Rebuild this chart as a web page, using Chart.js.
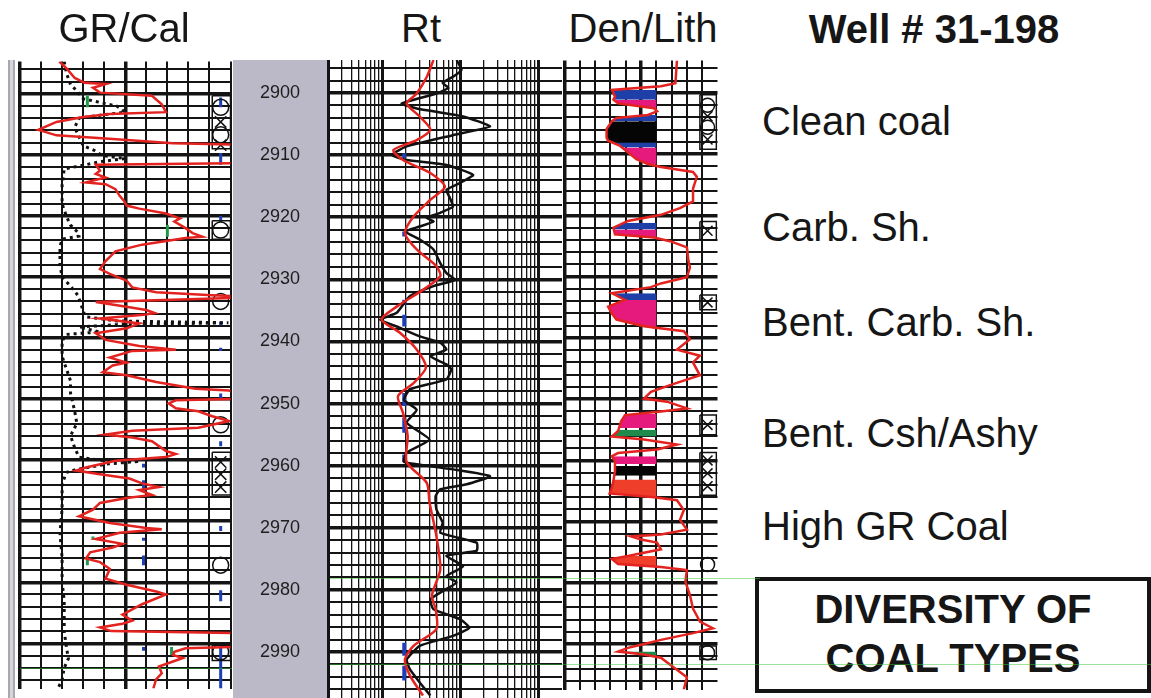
<!DOCTYPE html>
<html lang="en">
<head>
<meta charset="utf-8">
<title>Well # 31-198 - Diversity of coal types</title>
<script src="https://cdn.jsdelivr.net/npm/chart.js@4.4.1/dist/chart.umd.min.js"></script>
<style>
  html, body { margin: 0; padding: 0; background: #fff; }
  body { position: relative; width: 1151px; height: 698px; overflow: hidden;
         font-family: "Liberation Sans", Arial, Helvetica, sans-serif; color: #161616; }
  canvas { position: absolute; top: 52px; }
  #grChart { left: 0; z-index: 2; }
  #rtChart { left: 232px; z-index: 1; }
  #denChart { left: 556px; z-index: 1; }
  .txt { position: absolute; font-size: 40px; line-height: 40px; white-space: nowrap; z-index: 3; }
  .ctr { text-align: center; }
  .bold { font-weight: bold; }
  #edge { position: absolute; left: 8px; top: 60px; width: 3px; height: 638px; background: #d6d6da;
          border-left: 2px solid #a8a8b0; border-right: 2px solid #a8a8b0; }
  #box { position: absolute; left: 755px; top: 577px; width: 396px; height: 116px;
         box-sizing: border-box; border: 4px solid #151515; }
  /* faint green scan marks crossing the sheet */
  .scan { position: absolute; height: 1px; background: #3cc43c; opacity: 0.5; z-index: 4; }
</style>
</head>
<body>
<div class="txt ctr" style="left:24px;top:8px;width:200px">GR/Cal</div>
<div class="txt ctr" style="left:371px;top:8px;width:100px">Rt</div>
<div class="txt ctr" style="left:543px;top:8px;width:200px">Den/Lith</div>
<div class="txt ctr bold" style="left:734px;top:9px;width:400px">Well # 31-198</div>

<div class="txt" style="left:762px;top:101px">Clean coal</div>
<div class="txt" style="left:762px;top:207px">Carb. Sh.</div>
<div class="txt" style="left:762px;top:302px">Bent. Carb. Sh.</div>
<div class="txt" style="left:762px;top:413px">Bent. Csh/Ashy</div>
<div class="txt" style="left:762px;top:506px">High GR Coal</div>

<div id="box"></div>
<div class="txt ctr bold" style="left:755px;top:589px;width:396px">DIVERSITY OF</div>
<div class="txt ctr bold" style="left:755px;top:638px;width:396px">COAL TYPES</div>

<div class="scan" style="left:330px;top:578px;width:430px"></div>
<div class="scan" style="left:330px;top:664px;width:821px"></div>
<div class="scan" style="left:20px;top:668px;width:212px"></div>

<div id="edge"></div>
<canvas id="rtChart" width="336" height="646"></canvas>
<canvas id="denChart" width="170" height="646"></canvas>
<canvas id="grChart" width="240" height="646"></canvas>

<script>
// ---------- depth window ----------
const depthTop = 2894.7;
const depthBase = 2997.4;
const depthLabels = [2900, 2910, 2920, 2930, 2940, 2950, 2960, 2970, 2980, 2990];

// ---------- GR (API) ----------
const grDepth = [2894.7,2895.8,2897.4,2898.2,2898.4,2899.0,2899.8,2900.3,2901.7,2903.0,
  2903.3,2903.8,2904.6,2905.9,2906.8,2907.3,2908.1,2908.4,2911.3,2911.6,
  2912.6,2913.1,2913.7,2914.5,2914.8,2915.6,2916.7,2917.5,2918.3,2918.8,
  2919.6,2920.4,2920.9,2922.0,2922.8,2923.4,2923.6,2924.7,2925.8,2927.4,
  2928.7,2929.5,2930.6,2931.7,2932.5,2933.0,2933.3,2934.1,2934.6,2935.4,
  2935.9,2936.2,2936.8,2937.6,2938.4,2939.2,2940.3,2941.3,2941.9,2942.1,
  2943.2,2944.0,2944.5,2945.6,2946.1,2947.2,2948.3,2948.6,2949.9,2950.2,
  2950.7,2951.5,2952.0,2952.8,2953.6,2954.7,2955.2,2955.8,2956.3,2956.9,
  2957.7,2958.5,2959.0,2959.5,2960.1,2961.2,2961.7,2962.3,2963.0,2963.8,
  2964.4,2964.9,2965.7,2966.2,2967.0,2968.1,2969.2,2970.3,2971.1,2971.3,
  2971.9,2972.9,2973.7,2974.3,2975.1,2976.1,2976.7,2977.8,2979.4,2980.4,
  2981.5,2982.0,2983.6,2985.3,2986.3,2986.8,2987.4,2988.0,2988.4,2990.5,
  2990.8,2991.4,2991.9,2992.4,2993.8,2994.9,2995.9,2997.4];
const grApi = [28,33,39,46,61,52,57,94,101,104,
  64,45,26,13,26,61,109,170,170,54,
  57,54,61,47,61,68,71,74,76,85,
  104,114,110,118,123,130,118,87,68,61,
  57,64,76,80,97,137,170,54,68,90,
  96,88,57,85,76,54,61,85,111,80,
  64,76,66,59,76,97,125,149,170,111,
  106,111,127,137,149,127,80,61,80,94,
  99,104,111,104,68,47,40,57,78,87,
  99,85,94,76,57,52,42,64,90,101,
  71,54,73,66,50,47,57,64,61,76,
  97,104,87,73,80,73,57,65,170,170,
  118,110,109,116,99,101,97,95];

// ---------- Caliper (in) ----------
const calDepth = [2894.7,2896.5,2898.5,2899.5,2900.8,2901.4,2902.0,2903.0,2903.5,2904.0,
  2905.5,2907.0,2908.5,2909.2,2910.1,2910.6,2911.1,2911.7,2912.3,2915.0,
  2918.0,2920.0,2921.5,2922.7,2923.3,2923.8,2925.0,2928.0,2930.0,2931.5,
  2933.0,2934.5,2935.5,2936.5,2937.2,2937.5,2937.8,2938.2,2939.0,2939.4,
  2940.5,2943.0,2945.0,2947.0,2949.0,2950.5,2952.0,2954.0,2956.0,2958.0,
  2959.5,2960.0,2960.2,2960.6,2961.5,2962.0,2964.0,2968.0,2972.0,2976.0,
  2980.0,2983.0,2986.0,2988.0,2990.5,2992.5,2994.0,2996.0,2997.4];
const calInch = [8.1,8.2,8.4,8.7,9.0,9.8,10.6,11.0,9.8,8.8,
  8.6,8.8,9.0,9.5,9.9,11.0,9.8,9.0,8.1,8.0,
  8.0,8.2,8.4,8.75,8.8,8.0,7.9,7.9,8.0,8.4,
  8.75,8.9,9.0,9.1,10.6,15.9,10.6,8.8,9.8,8.2,
  8.0,8.0,8.2,8.4,8.4,8.5,8.6,8.7,8.4,8.6,
  8.8,9.8,11.7,10.2,8.7,8.2,8.0,8.0,7.9,8.0,
  8.0,8.1,8.1,8.1,8.2,8.3,8.1,8.0,7.8];

// ---------- Rt deep (black) and shallow (red), ohm-m ----------
const rtDeepDepth = [2894.7,2896.3,2897.4,2898.4,2899.2,2900.1,2901.7,2902.5,2903.8,2905.4,
  2906.8,2908.6,2910.0,2910.8,2911.6,2913.2,2914.5,2915.6,2916.9,2918.3,
  2919.3,2920.1,2920.7,2921.5,2922.3,2923.6,2925.2,2927.4,2929.0,2930.1,
  2931.1,2932.7,2935.4,2936.5,2937.6,2939.2,2940.2,2941.3,2942.4,2943.7,
  2944.5,2946.1,2947.7,2949.4,2951.0,2953.1,2955.8,2957.9,2959.4,2960.6,
  2961.7,2963.0,2963.8,2964.9,2967.0,2969.2,2970.8,2972.4,2973.7,2974.5,
  2976.2,2977.8,2978.8,2980.2,2981.5,2983.1,2984.7,2986.1,2987.4,2989.0,
  2991.2,2992.8,2994.9,2997.0];
const rtDeep = [8.9,10.3,8.0,5.9,7.0,4.9,1.76,2.74,10.8,23.9,
  8.0,2.04,1.31,2.04,6.6,14.5,9.8,6.6,7.3,8.0,
  5.5,3.7,4.5,3.0,1.94,3.0,4.5,5.5,6.6,8.5,
  4.5,2.25,1.52,0.93,1.52,3.0,5.5,6.6,4.1,6.6,
  7.6,6.6,2.25,1.88,2.74,2.04,4.0,2.04,1.88,8.0,
  23.9,12.0,5.5,4.8,4.9,5.9,5.5,16.1,16.1,6.6,
  10.8,6.6,8.9,5.9,4.1,4.5,9.8,13.0,8.0,3.0,
  2.04,2.25,3.0,4.1];
const rtShallowDepth = [2894.7,2897.4,2900.1,2901.7,2903.8,2905.9,2907.6,2909.2,2910.8,2912.9,
  2915.1,2917.2,2919.9,2922.6,2925.2,2927.9,2929.5,2931.7,2934.4,2936.5,
  2938.6,2941.3,2944.2,2946.7,2948.8,2951.5,2955.2,2959.4,2962.8,2965.9,
  2971.3,2976.7,2980.9,2983.1,2986.3,2989.0,2991.2,2993.8,2997.0];
const rtShallow = [4.5,3.7,2.74,2.04,3.0,4.1,2.74,1.38,1.83,4.1,
  6.3,4.1,2.5,1.94,2.74,4.9,5.5,3.3,1.52,0.97,
  1.67,2.74,3.6,2.5,1.58,1.83,2.1,2.04,3.7,4.0,
  4.9,5.5,4.3,4.8,4.9,2.5,1.94,2.25,3.3];

// ---------- Density (g/cc) ----------
const denDepth = [2894.7,2898.4,2898.9,2899.5,2900.6,2901.1,2901.7,2902.5,2903.0,2903.6,
  2904.1,2904.6,2905.9,2907.3,2907.8,2908.6,2909.7,2910.8,2911.6,2912.1,
  2912.9,2913.7,2915.6,2917.7,2918.8,2919.9,2920.9,2922.0,2923.1,2923.6,
  2924.2,2925.2,2927.4,2928.5,2930.1,2931.1,2931.7,2932.7,2933.8,2934.9,
  2936.0,2937.0,2938.1,2938.9,2940.2,2941.9,2942.9,2944.0,2946.1,2947.7,
  2948.8,2949.9,2950.4,2951.5,2952.0,2952.6,2953.6,2955.2,2956.1,2956.6,
  2957.4,2958.2,2958.8,2959.3,2960.1,2961.7,2963.3,2964.4,2965.4,2966.0,
  2966.5,2968.1,2969.7,2971.3,2972.1,2972.4,2972.9,2973.4,2974.5,2975.6,
  2976.1,2976.9,2977.4,2977.9,2979.8,2982.0,2984.2,2986.3,2987.4,2988.2,
  2989.3,2990.1,2990.6,2991.2,2991.7,2992.2,2993.8,2995.4,2997.4];
const denGcc = [2.47,2.45,2.26,1.62,1.66,1.64,1.70,2.17,2.21,2.09,
  1.68,1.62,1.55,1.55,1.57,1.72,1.83,1.94,2.09,2.26,
  2.68,2.73,2.68,2.68,2.51,2.26,1.83,1.64,1.66,2.17,
  2.38,2.60,2.62,2.64,2.60,2.26,2.13,1.62,1.79,1.57,
  1.62,1.68,2.04,2.56,2.64,2.47,2.77,2.68,2.77,2.38,
  2.13,2.04,2.34,2.60,2.26,1.79,1.74,1.70,1.62,2.04,
  2.47,2.21,1.70,1.62,1.66,1.66,1.64,1.62,1.59,2.17,
  2.47,2.56,2.51,2.60,2.26,1.87,2.00,2.21,2.26,1.83,
  1.62,1.70,2.26,2.60,2.58,2.64,2.68,2.77,2.94,2.68,
  2.26,2.00,1.83,1.70,2.04,2.26,2.43,2.60,2.56];
const denCutoff = 2.2;

// lithology shading between density curve and cutoff
const bandTop  = [2899.5,2901.1,2903.6,2904.6,2908.1,2908.9,2921.2,2922.3,2932.7,2933.8,2952.4,2955.0,2959.3,2960.9,2963.1,2975.6,2991.2];
const bandBase = [2901.1,2903.0,2904.6,2908.1,2908.9,2911.6,2922.3,2923.6,2933.8,2938.6,2954.7,2956.1,2960.6,2962.5,2966.0,2977.4,2992.0];
const bandLith = ['bone','carbSh','bone','coal','bone','carbSh','bone','carbSh','bone','carbSh','carbSh','bent','carbSh','coal','ashy','ashy','bent'];

// lithology symbol columns
const grCircleDepth = [2902.2, 2906.7, 2922.3, 2934.0, 2954.2, 2977.2, 2991.4];
const grCrossDepth = [2904.6, 2908.4, 2960.3, 2962.3, 2964.4];
const grBoxTop = [2900.3, 2920.8, 2958.7, 2990.3];
const grBoxBase = [2909.0, 2923.8, 2965.7, 2992.8];
const denCircleDepth = [2902.0, 2905.6, 2977.0, 2991.4];
const denCrossDepth = [2903.8, 2907.6, 2922.5, 2934.2, 2954.2, 2960.0, 2962.1, 2964.2];
const denBoxTop = [2900.3, 2921.0, 2933.0, 2952.6, 2958.7, 2990.3];
const denBoxBase = [2909.2, 2924.0, 2935.4, 2955.8, 2965.7, 2992.5];

// flag marks (short bars)
const grBlueApi  = [143,143,143,143,143,143,143,143,143,143,88,88,88,88,88];
const grBlueTop  = [2900.6,2909.7,2920.0,2937.3,2941.6,2949.1,2956.9,2970.8,2981.3,2990.1,2960.6,2963.3,2972.7,2975.6,2990.6];
const grBlueBase = [2902.2,2911.6,2921.0,2937.9,2942.1,2949.9,2957.7,2971.6,2983.1,2997.4,2961.2,2965.2,2973.2,2977.2,2991.2];
const grGreenApi  = [48, 105, 52, 48, 108];
const grGreenTop  = [2900.3, 2921.5, 2972.5, 2976.1, 2990.6];
const grGreenBase = [2902.2, 2923.4, 2973.0, 2977.2, 2991.9];
const rtBlueTop  = [2909.7, 2922.3, 2933.3, 2935.7, 2948.3, 2952.3, 2958.2, 2988.5, 2992.2];
const rtBlueBase = [2910.5, 2923.1, 2934.1, 2937.6, 2950.4, 2954.7, 2959.4, 2990.6, 2994.6];

// ---------- styles ----------
const ink = '#141414';
const logRed = '#e3231f';
const lithColor = { coal: '#050505', carbSh: '#e6197c', bone: '#1f3fa8', bent: '#1e8a4c', ashy: '#ef3f2b' };
const grSymbolApi = 143, grBoxLeft = 137, grBoxRight = 150;
const denSymbolGcc = 2.87, denBoxLeft = 2.77, denBoxRight = 2.985;
const rtFlag = 1.9;

Chart.defaults.font.family = '"Liberation Sans", Arial, sans-serif';

// ---------- helpers ----------
function pairs(depths, values) {
  return depths.map((d, i) => ({ x: values[i], y: d }));
}
function bars(values, tops, bases) {
  const pts = [];
  tops.forEach((t, i) => {
    const v = Array.isArray(values) ? values[i] : values;
    pts.push({ x: v, y: t }, { x: v, y: bases[i] }, { x: null, y: bases[i] });
  });
  return pts;
}
function boxes(left, right, tops, bases) {
  const pts = [];
  tops.forEach((t, i) => {
    const b = bases[i];
    pts.push({ x: left, y: t }, { x: right, y: t }, { x: right, y: b }, { x: left, y: b }, { x: left, y: t }, { x: null, y: b });
  });
  return pts;
}
function denAt(d) {
  for (let i = 1; i < denDepth.length; i++) {
    if (d <= denDepth[i]) {
      const t = (d - denDepth[i - 1]) / (denDepth[i] - denDepth[i - 1]);
      return denGcc[i - 1] + t * (denGcc[i] - denGcc[i - 1]);
    }
  }
  return denGcc[denGcc.length - 1];
}
function bandOutline(top, base) {
  const pts = [{ x: Math.min(denAt(top), denCutoff), y: top }];
  denDepth.forEach((d, i) => {
    if (d > top && d < base) pts.push({ x: Math.min(denGcc[i], denCutoff), y: d });
  });
  pts.push({ x: Math.min(denAt(base), denCutoff), y: base });
  return pts;
}
function symbols(value, depths, style, r) {
  return {
    data: depths.map(d => ({ x: value, y: d })), showLine: false,
    pointStyle: style, pointRadius: r, pointBorderColor: '#111', pointBorderWidth: 1.5,
    pointBackgroundColor: 'rgba(0,0,0,0)'
  };
}

// grid every 2 ft, heavy every 10 ft
const depthGrid = [];
for (let d = 2896; d <= 2996; d += 2) depthGrid.push(d);

function depthScale(extra) {
  return Object.assign({
    type: 'linear', min: depthTop, max: depthBase, reverse: true,
    afterBuildTicks: s => { s.ticks = depthGrid.map(v => ({ value: v })); },
    ticks: { display: false },
    grid: { color: ink, lineWidth: c => (c.tick.value % 10 === 0 ? 3.5 : 2), drawTicks: false },
    border: { display: false }
  }, extra || {});
}

function baseOptions(scales, padding) {
  return {
    responsive: false, animation: false, events: [], indexAxis: 'y',
    layout: { padding: padding },
    plugins: { legend: { display: false }, tooltip: { enabled: false } },
    elements: { point: { radius: 0 }, line: { tension: 0 } },
    scales: scales
  };
}

// ---------- Track 1: GR / Caliper ----------
const grGrid = [0, 15, 30, 45, 60, 75, 90, 105, 120, 135, 150];
new Chart(document.getElementById('grChart'), {
  type: 'line',
  data: {
    datasets: [
      { data: pairs(grDepth, grApi), borderColor: logRed, borderWidth: 2.5, xAxisID: 'x' },
      { data: pairs(calDepth, calInch), borderColor: '#111', borderWidth: 3, borderDash: [3, 4], xAxisID: 'xc' },
      Object.assign(symbols(grSymbolApi, grCircleDepth, 'circle', 8), { xAxisID: 'x' }),
      Object.assign(symbols(grSymbolApi, grCrossDepth, 'crossRot', 8), { xAxisID: 'x' }),
      { data: boxes(grBoxLeft, grBoxRight, grBoxTop, grBoxBase), borderColor: '#111', borderWidth: 1.5, xAxisID: 'x' },
      { data: bars(grBlueApi, grBlueTop, grBlueBase), borderColor: '#1d3fb5', borderWidth: 3, xAxisID: 'x' },
      { data: bars(grGreenApi, grGreenTop, grGreenBase), borderColor: '#1f9a4a', borderWidth: 3, xAxisID: 'x' }
    ]
  },
  options: baseOptions({
    x: {
      type: 'linear', min: 0, max: 150,
      afterBuildTicks: s => { s.ticks = grGrid.map(v => ({ value: v })); },
      ticks: { display: false },
      grid: { color: ink, lineWidth: c => (c.tick.value === 0 || c.tick.value === 75 ? 3.5 : 2), drawTicks: false },
      border: { display: false }
    },
    xc: { type: 'linear', min: 6, max: 16, display: false },
    y: depthScale()
  }, { left: 20, right: 8, top: 8, bottom: 0 })
});

// ---------- Depth column + Track 2: Rt ----------
const rtGrid = [];
[0.1, 1, 10, 100].forEach(base => {
  for (let m = 1; m <= 9; m++) {
    const v = +(m * base).toPrecision(3);
    if (v >= 0.2 && v < 200) rtGrid.push(v);
  }
});
const rtDecades = [0.2, 1, 10, 100];

const depthColumn = {
  id: 'depthColumn',
  beforeDraw(chart) {
    const { ctx, chartArea } = chart;
    ctx.save();
    ctx.fillStyle = '#bbb8c8';
    ctx.fillRect(1, chartArea.top, chartArea.left - 1, chartArea.bottom - chartArea.top);
    ctx.restore();
  }
};

new Chart(document.getElementById('rtChart'), {
  type: 'line',
  data: {
    datasets: [
      { data: pairs(rtShallowDepth, rtShallow), borderColor: logRed, borderWidth: 2.5, tension: 0.25 },
      { data: pairs(rtDeepDepth, rtDeep), borderColor: '#111', borderWidth: 2.5, tension: 0.15 },
      { data: bars(rtFlag, rtBlueTop, rtBlueBase), borderColor: '#1d3fb5', borderWidth: 4 }
    ]
  },
  options: baseOptions({
    x: {
      type: 'logarithmic', min: 0.2, max: 200,
      afterBuildTicks: s => { s.ticks = rtGrid.map(v => ({ value: v })); },
      ticks: { display: false },
      grid: { color: ink, lineWidth: c => (rtDecades.includes(c.tick.value) ? 3 : 1.3), drawTicks: false },
      border: { display: false }
    },
    y: depthScale({
      ticks: {
        display: true, autoSkip: false, crossAlign: 'center', padding: 28, color: '#1e1e1e',
        font: { size: 18 },
        callback: v => (depthLabels.includes(v) ? String(v) : '')
      },
      afterFit: s => { s.width = 96; s.paddingTop = 0; s.paddingBottom = 0; }
    })
  }, { left: 0, right: 6, top: 8, bottom: 0 }),
  plugins: [depthColumn]
});

// ---------- Track 3: Density / Lithology ----------
const denGrid = [];
for (let i = 0; i <= 9; i++) denGrid.push(+(1 + i * 0.2).toFixed(1));

const denSets = [
  { data: pairs(denDepth, denGcc), borderColor: logRed, borderWidth: 2.5 },
  symbols(denSymbolGcc, denCircleDepth, 'circle', 7),
  symbols(denSymbolGcc, denCrossDepth, 'crossRot', 7),
  { data: boxes(denBoxLeft, denBoxRight, denBoxTop, denBoxBase), borderColor: '#111', borderWidth: 1.5 }
];
bandTop.forEach((t, i) => {
  denSets.push({
    data: bandOutline(t, bandBase[i]), borderWidth: 0, borderColor: 'rgba(0,0,0,0)',
    backgroundColor: lithColor[bandLith[i]], fill: { value: denCutoff }
  });
});

new Chart(document.getElementById('denChart'), {
  type: 'line',
  data: { datasets: denSets },
  options: baseOptions({
    x: {
      type: 'linear', min: 1.0, max: 3.0,
      afterBuildTicks: s => { s.ticks = denGrid.map(v => ({ value: v })); },
      ticks: { display: false },
      grid: { color: ink, lineWidth: c => (c.index === 0 || c.index === 5 ? 3.5 : 2), drawTicks: false },
      border: { display: false }
    },
    y: depthScale()
  }, { left: 6, right: 8, top: 8, bottom: 0 })
});
</script>
</body>
</html>
